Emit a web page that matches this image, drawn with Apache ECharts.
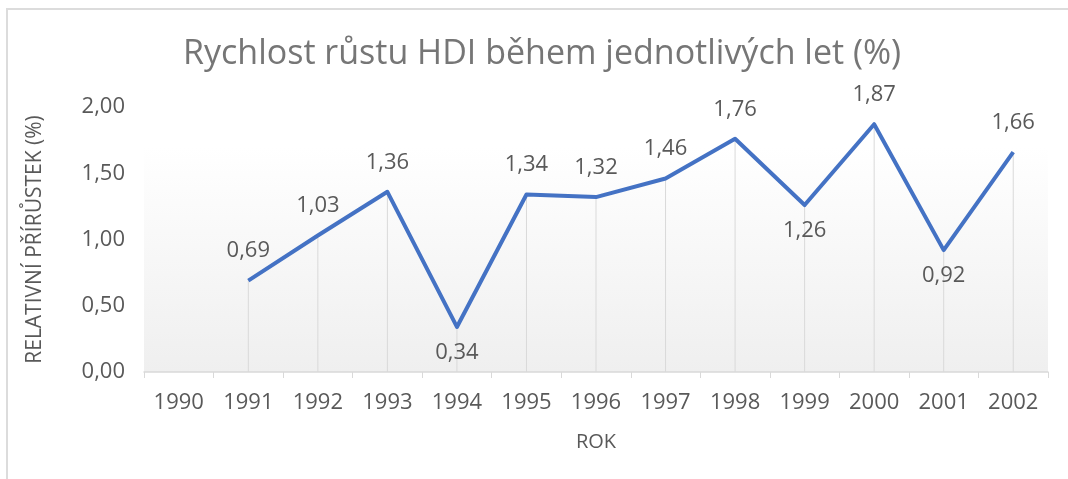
<!DOCTYPE html>
<html>
<head>
<meta charset="utf-8">
<script src="https://cdn.jsdelivr.net/npm/echarts@6/dist/echarts.min.js"></script>
<style>
  html, body { margin: 0; padding: 0; background: #fff; }
  #frame {
    position: absolute; left: 0; top: 0; width: 1068px; height: 479px;
  }
  #border {
    position: absolute; left: 6px; top: 8px; right: 0; bottom: 0;
    border-top: 2px solid #dcdcdc; border-left: 2px solid #dcdcdc;
  }
  #chart { position: absolute; left: 0; top: 0; width: 1068px; height: 479px; }
</style>
</head>
<body>
<div id="frame">
  <div id="border"></div>
  <div id="chart"></div>
</div>
<script>
// data
const years = ['1990', '1991', '1992', '1993', '1994', '1995', '1996',
               '1997', '1998', '1999', '2000', '2001', '2002'];
const growth = [null, 0.69, 1.03, 1.36, 0.34, 1.34, 1.32,
                1.46, 1.76, 1.26, 1.87, 0.92, 1.66];
const yTicks = [0, 0.5, 1.0, 1.5, 2.0];

const titleText = 'Rychlost růstu HDI během jednotlivých let (%)';
const xName = 'ROK';
const yName = 'RELATIVNÍ PŘÍRŮSTEK (%)';

const fontFamily = '"Open Sans", "Noto Sans", sans-serif';
const textColor = '#595959';

// czech number format
const fmt = v => v.toFixed(2).replace('.', ',');

// label below the point when it is a clear dip between neighbours
function isDip(i) {
    const v = growth[i];
    const prev = growth[i - 1];
    const next = growth[i + 1];
    if (prev == null || next == null) return false;
    return v < prev - 0.05 && v < next - 0.05;
}

const lineData = growth.map((v, i) => {
    if (v == null) return null;
    const below = isDip(i);
    return {
        value: v,
        label: { position: below ? 'bottom' : 'top', distance: below ? 14 : 18 }
    };
});

const chart = echarts.init(document.getElementById('chart'));

chart.setOption({
    animation: false,
    title: {
        text: titleText,
        left: 178,
        top: 32,
        textStyle: {
            fontFamily: fontFamily,
            fontSize: 34,
            fontWeight: 'normal',
            color: '#767676'
        }
    },
    grid: {
        left: 144,
        right: 20,
        top: 107,
        bottom: 107,
        show: true,
        borderWidth: 0,
        backgroundColor: {
            type: 'linear', x: 0, y: 0, x2: 0, y2: 1,
            colorStops: [
                { offset: 0, color: '#ffffff' },
                { offset: 0.15, color: '#ffffff' },
                { offset: 1, color: '#efefef' }
            ]
        }
    },
    xAxis: {
        type: 'category',
        data: years,
        boundaryGap: true,
        name: xName,
        nameLocation: 'middle',
        nameGap: 60,
        nameTextStyle: { fontFamily: fontFamily, fontSize: 20, color: textColor },
        axisLine: { lineStyle: { color: '#d9d9d9', width: 1.5 } },
        axisTick: { show: true, length: 6, lineStyle: { color: '#d9d9d9' } },
        axisLabel: {
            fontFamily: fontFamily, fontSize: 22, color: textColor, margin: 20
        },
        splitLine: { show: false }
    },
    yAxis: {
        type: 'value',
        min: yTicks[0],
        max: yTicks[yTicks.length - 1],
        interval: yTicks[1] - yTicks[0],
        name: yName,
        nameLocation: 'middle',
        nameGap: 98,
        nameRotate: 90,
        nameTextStyle: { fontFamily: fontFamily, fontSize: 21, color: textColor },
        axisLine: { show: false },
        axisTick: { show: false },
        splitLine: { show: false },
        axisLabel: {
            fontFamily: fontFamily, fontSize: 22, color: textColor, margin: 19,
            formatter: fmt
        }
    },
    series: [
        {
            // drop lines
            type: 'bar',
            data: growth,
            barWidth: 1,
            silent: true,
            itemStyle: { color: '#d9d9d9' },
            z: 1
        },
        {
            type: 'line',
            data: lineData,
            symbol: 'circle',
            symbolSize: 1,
            showSymbol: true,
            itemStyle: { color: 'rgba(68,114,196,0)' },
            connectNulls: false,
            lineStyle: { color: '#4472c4', width: 4, join: 'round' },
            label: {
                show: true,
                fontFamily: fontFamily,
                fontSize: 22,
                color: textColor,
                formatter: p => fmt(p.value)
            },
            z: 3
        }
    ]
});
</script>
</body>
</html>
